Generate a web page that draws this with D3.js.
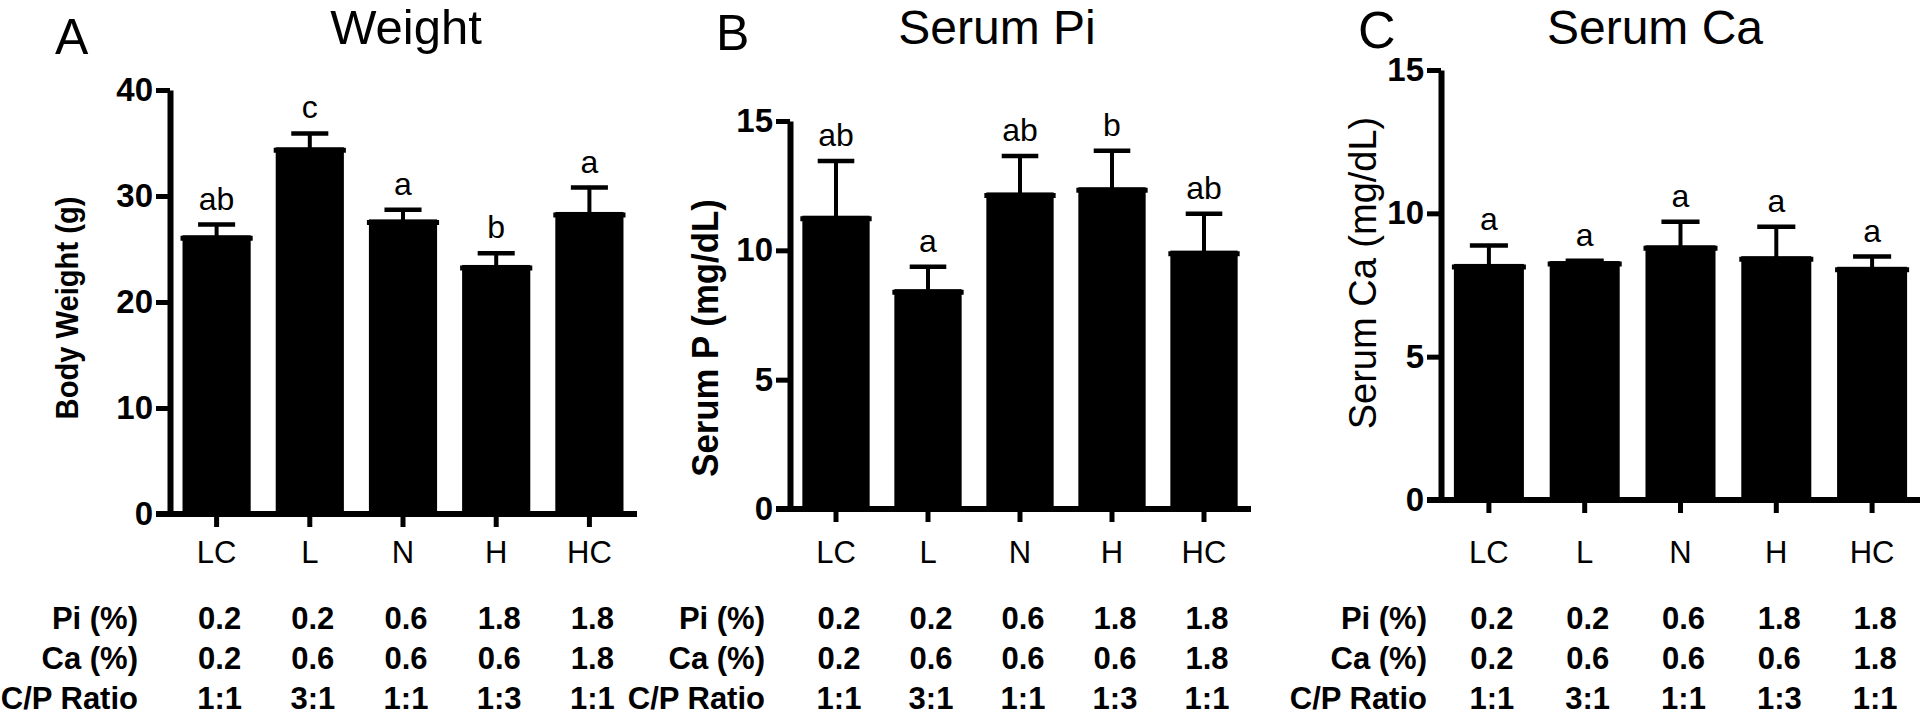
<!DOCTYPE html>
<html><head><meta charset="utf-8">
<script src="https://cdn.jsdelivr.net/npm/d3@7"></script>
<style>body{margin:0;background:#fff} svg{display:block;font-family:"Liberation Sans",Arial,sans-serif}</style>
</head><body>
<svg id="c" width="1920" height="715"></svg>
<script>
// ---------- data ----------
const categories = ["LC","L","N","H","HC"];
const weightMean = [26.2, 34.5, 27.7, 23.4, 28.4];
const weightErr  = [1.1, 1.4, 1.0, 1.2, 2.4];
const weightLetters = ["ab","c","a","b","a"];
const serumPMean = [11.3, 8.46, 12.2, 12.4, 9.95];
const serumPErr  = [2.15, 0.91, 1.45, 1.45, 1.46];
const serumPLetters = ["ab","a","ab","b","ab"];
const serumCaMean = [8.2, 8.3, 8.85, 8.47, 8.1];
const serumCaErr  = [0.68, 0.05, 0.86, 1.06, 0.39];
const serumCaLetters = ["a","a","a","a","a"];
const weightTicks = [0,10,20,30,40];
const serumTicks = [0,5,10,15];
const rowLabels = ["Pi (%)","Ca (%)","C/P Ratio"];
const piPct   = ["0.2","0.2","0.6","1.8","1.8"];
const caPct   = ["0.2","0.6","0.6","0.6","1.8"];
const cpRatio = ["1:1","3:1","1:1","1:3","1:1"];
const tableRows = [piPct, caPct, cpRatio];

// ---------- layout ----------
const panels = [
  {tag:"A", tagSize:50, tagY:54, title:"Weight", titleSize:49, ylab:"Body Weight (g)", ylabBold:true, ylabSize:31, ylabSx:0.94,
   mean:weightMean, err:weightErr, letters:weightLetters, ticks:weightTicks, max:40,
   axisX:170, xEnd:636, y0:514, y1:90, tagX:55, titleX:406, ylabX:78, ylabY:308, rowLabX:138},
  {tag:"B", tagSize:50, tagY:50, title:"Serum Pi", titleSize:48, ylab:"Serum P (mg/dL)", ylabBold:true, ylabSize:37, ylabSx:0.94,
   mean:serumPMean, err:serumPErr, letters:serumPLetters, ticks:serumTicks, max:15,
   axisX:790, xEnd:1250, y0:509, y1:121, tagX:716, titleX:997, ylabX:718, ylabY:338, rowLabX:765},
  {tag:"C", tagSize:52, tagY:48, title:"Serum Ca", titleSize:48, ylab:"Serum Ca (mg/dL)", ylabBold:false, ylabSize:38, ylabSx:1,
   mean:serumCaMean, err:serumCaErr, letters:serumCaLetters, ticks:serumTicks, max:15,
   axisX:1441, xEnd:1920, y0:500, y1:70, tagX:1358, titleX:1655, ylabX:1376, ylabY:273, rowLabX:1427}
];
const titleY = 44;
const rowY = [629, 669, 709];
const xLabY = 563;

const svg = d3.select("#c");

function txt(g, x, y, s, o) {
  o = o || {};
  let tr = `translate(${x},${y})` + (o.rotate ? " rotate(-90)" : "") + (o.sx ? ` scale(${o.sx},1)` : "");
  return g.append("text").attr("transform", tr)
    .attr("text-anchor", o.anchor || "middle")
    .attr("font-size", o.size || 30)
    .attr("font-weight", o.weight || "normal")
    .attr("fill", "#000").text(s);
}

panels.forEach(p => {
  const g = svg.append("g");
  const x = d3.scaleBand().domain(categories).range([p.axisX, p.xEnd]).paddingInner(0.29).paddingOuter(0.145);
  const y = d3.scaleLinear().domain([0, p.max]).range([p.y0, p.y1]);
  const bw = x.bandwidth();

  // bars
  g.selectAll("rect.bar").data(categories).join("rect")
    .attr("x", d => x(d)).attr("width", bw)
    .attr("y", (d,i) => y(p.mean[i])).attr("height", (d,i) => y(0) - y(p.mean[i]))
    .attr("fill", "#000").attr("stroke", "#000").attr("stroke-width", 2);
  // bar top lip
  g.selectAll("line.lip").data(categories).join("line")
    .attr("x1", d => x(d) - 3).attr("x2", d => x(d) + bw + 3)
    .attr("y1", (d,i) => y(p.mean[i]) + 2).attr("y2", (d,i) => y(p.mean[i]) + 2)
    .attr("stroke", "#000").attr("stroke-width", 5);
  // error bars
  g.selectAll("line.ev").data(categories).join("line")
    .attr("x1", d => x(d) + bw/2).attr("x2", d => x(d) + bw/2)
    .attr("y1", (d,i) => y(p.mean[i])).attr("y2", (d,i) => y(p.mean[i] + p.err[i]))
    .attr("stroke", "#000").attr("stroke-width", 4);
  g.selectAll("line.ec").data(categories).join("line")
    .attr("x1", d => x(d) + bw/2 - bw*0.28).attr("x2", d => x(d) + bw/2 + bw*0.28)
    .attr("y1", (d,i) => y(p.mean[i] + p.err[i])).attr("y2", (d,i) => y(p.mean[i] + p.err[i]))
    .attr("stroke", "#000").attr("stroke-width", 4.5);
  // significance letters
  categories.forEach((c,i) => {
    txt(g, x(c) + bw/2, y(p.mean[i] + p.err[i]) - 15, p.letters[i], {size:32});
  });

  // y axis
  const ya = g.append("g").attr("transform", `translate(${p.axisX},0)`)
    .call(d3.axisLeft(y).tickValues(p.ticks).tickSize(14).tickSizeOuter(0).tickPadding(3));
  ya.select(".domain").attr("stroke-width", 6).attr("stroke", "#000");
  ya.selectAll(".tick line").attr("stroke-width", 5).attr("stroke", "#000");
  ya.selectAll(".tick text").attr("font-size", 33).attr("font-weight", "bold").attr("fill", "#000")
    .attr("font-family", '"Liberation Sans",Arial,sans-serif');

  // x axis (ticks via axisBottom, line drawn to join the y-axis tick)
  const xa = g.append("g").attr("transform", `translate(0,${y(0)})`)
    .call(d3.axisBottom(x).tickSize(13).tickSizeOuter(0).tickFormat(""));
  xa.select(".domain").remove();
  xa.selectAll(".tick line").attr("stroke-width", 5).attr("stroke", "#000");
  g.append("line").attr("x1", p.axisX - 14).attr("x2", p.xEnd + 1)
    .attr("y1", y(0)).attr("y2", y(0)).attr("stroke", "#000").attr("stroke-width", 6);

  // x category labels
  categories.forEach(c => txt(g, x(c) + bw/2, xLabY, c, {size:31}));

  // titles
  txt(g, p.tagX, p.tagY, p.tag, {size:p.tagSize, anchor:"start"});
  txt(g, p.titleX, titleY, p.title, {size:p.titleSize});
  txt(g, p.ylabX, p.ylabY, p.ylab, {size:p.ylabSize, weight:p.ylabBold ? "bold" : "normal", rotate:true, sx:p.ylabSx});

  // diet table
  rowLabels.forEach((r,k) => {
    txt(g, p.rowLabX, rowY[k], r, {size:31, weight:"bold", anchor:"end"});
    categories.forEach((c,i) => txt(g, x(c) + bw/2 + 3, rowY[k], tableRows[k][i], {size:31, weight:"bold"}));
  });
});
</script>
</body></html>
